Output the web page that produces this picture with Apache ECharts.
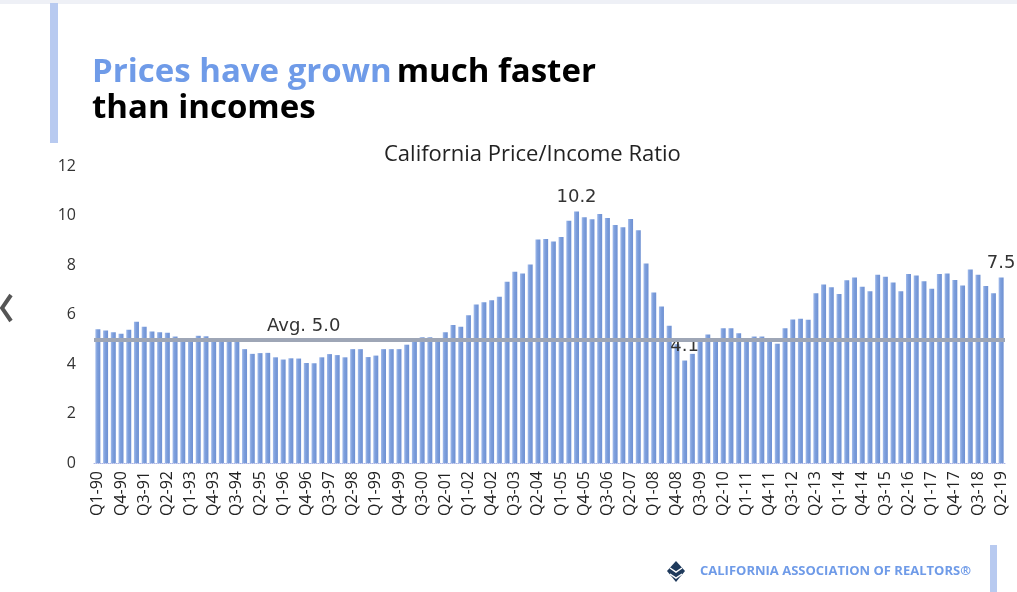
<!DOCTYPE html>
<html>
<head>
<meta charset="utf-8">
<script src="https://cdn.jsdelivr.net/npm/echarts@6/dist/echarts.min.js"></script>
<style>
html,body{margin:0;padding:0;background:#fff;}
#chart{width:1017px;height:592px;}
</style>
</head>
<body>
<div id="chart"></div>
<script>
// ---- Data ----
var startYear = 1990;
var quarterCount = 118; // Q1-90 .. Q2-19
var categories = [];
for (var k = 0; k < quarterCount; k++) {
  var yr = startYear + Math.floor(k / 4);
  var q = (k % 4) + 1;
  categories.push('Q' + q + '-' + String(yr % 100).padStart(2, '0'));
}

var ratioValues = [
  5.40, 5.35, 5.28, 5.22, 5.38, 5.71, 5.51, 5.31, 5.28, 5.26,
  5.11, 5.04, 5.04, 5.14, 5.12, 4.98, 4.95, 4.91, 4.95, 4.60,
  4.41, 4.44, 4.45, 4.27, 4.18, 4.23, 4.22, 4.04, 4.03, 4.27,
  4.40, 4.36, 4.27, 4.60, 4.60, 4.28, 4.34, 4.60, 4.60, 4.60,
  4.78, 4.93, 5.08, 5.08, 5.00, 5.28, 5.58, 5.51, 5.97, 6.40,
  6.49, 6.58, 6.72, 7.32, 7.73, 7.66, 8.02, 9.03, 9.05, 8.95,
  9.13, 9.79, 10.16, 9.93, 9.85, 10.06, 9.90, 9.62, 9.53, 9.86,
  9.40, 8.06, 6.89, 6.32, 5.55, 4.80, 4.14, 4.41, 4.95, 5.19,
  4.95, 5.44, 5.44, 5.24, 5.02, 5.11, 5.11, 4.95, 4.82, 5.44,
  5.80, 5.83, 5.79, 6.86, 7.21, 7.10, 6.83, 7.38, 7.50, 7.12,
  6.94, 7.61, 7.53, 7.29, 6.94, 7.64, 7.58, 7.34, 7.04, 7.64,
  7.66, 7.39, 7.17, 7.82, 7.61, 7.15, 6.86, 7.50
];

var averageValue = 5.0;
var labelledIndexes = [62, 76, 117]; // peak, trough, latest
var yTicks = { min: 0, max: 12, interval: 2 };

// ---- Build ----
var labelFont = 'DejaVu Sans';
var barData = ratioValues.map(function (v, i) {
  if (labelledIndexes.indexOf(i) >= 0) {
    return {
      value: v,
      label: {
        show: true, position: 'top', distance: 5,
        formatter: v.toFixed(1),
        color: '#333', fontSize: 18, fontFamily: labelFont
      }
    };
  }
  return v;
});

var chart = echarts.init(document.getElementById('chart'));
chart.setOption({
  backgroundColor: '#ffffff',
  animation: false,
  title: [
    {
      left: 87, top: 50,
      text: '{a|Prices have grown} {b|much faster}\n{b|than incomes}',
      textStyle: {
        rich: {
          a: { color: '#6f9be8', fontSize: 33, fontWeight: 'bold', fontFamily: 'Open Sans', lineHeight: 36 },
          b: { color: '#000000', fontSize: 33, fontWeight: 'bold', fontFamily: 'Open Sans', lineHeight: 36 }
        }
      }
    },
    {
      left: 379, top: 139,
      text: 'California Price/Income Ratio',
      textStyle: { color: '#222', fontSize: 22, fontWeight: 'normal', fontFamily: 'Open Sans' }
    }
  ],
  grid: { left: 94, right: 12, top: 166, bottom: 129, containLabel: false },
  xAxis: {
    type: 'category',
    data: categories,
    axisTick: { show: false },
    axisLine: { show: true, lineStyle: { color: '#aab6e6', type: 'dotted', width: 1 } },
    axisLabel: {
      interval: 2, rotate: 90, color: '#222', fontSize: 16, fontFamily: 'Open Sans', margin: 8
    }
  },
  yAxis: {
    type: 'value',
    min: yTicks.min, max: yTicks.max, interval: yTicks.interval,
    axisLine: { show: false }, axisTick: { show: false },
    splitLine: { show: false },
    axisLabel: { color: '#333', fontSize: 16, fontFamily: 'Open Sans', margin: 18 }
  },
  series: [{
    type: 'bar',
    data: barData,
    barWidth: 5,
    itemStyle: {
      color: new echarts.graphic.LinearGradient(0, 0, 1, 0, [
        { offset: 0, color: '#a3bcec' },
        { offset: 0.4, color: '#7d9fdc' },
        { offset: 1, color: '#6e90d2' }
      ])
    },
    markLine: {
      symbol: 'none',
      silent: true,
      lineStyle: { color: '#9ea6b6', width: 4, type: 'solid' },
      label: {
        show: true, position: 'insideStartTop', distance: [173, 4],
        formatter: 'Avg. ' + averageValue.toFixed(1),
        color: '#333', fontSize: 18, fontFamily: labelFont
      },
      data: [{ yAxis: averageValue }]
    }
  }],
  graphic: [
    { type: 'rect', left: 0, top: 0, shape: { width: 1017, height: 4 }, style: { fill: '#eef0f6' }, silent: true },
    { type: 'rect', left: 50, top: 3, shape: { width: 8, height: 140 }, style: { fill: '#b8caf0' }, silent: true },
    { type: 'rect', left: 990, top: 545, shape: { width: 7, height: 47 }, style: { fill: '#b8caf0' }, silent: true },
    { type: 'polyline', shape: { points: [[11, 295], [2, 308], [11, 321]] }, style: { stroke: '#555', lineWidth: 4, fill: null }, silent: true },
    { type: 'polygon', shape: { points: [[676, 561], [685, 571], [676, 582], [667, 571]] }, style: { fill: '#1f3a5c' }, silent: true },
    { type: 'polyline', shape: { points: [[670, 568], [676, 572], [682, 568]] }, style: { stroke: '#ffffff', lineWidth: 1.5, fill: null }, silent: true },
    { type: 'polyline', shape: { points: [[670, 574], [676, 578], [682, 574]] }, style: { stroke: '#ffffff', lineWidth: 1.5, fill: null }, silent: true },
    {
      type: 'text', left: 700, top: 565,
      style: { text: 'CALIFORNIA ASSOCIATION OF REALTORS\u00AE', fill: '#6f9be8', font: 'bold 13px "Open Sans"' },
      silent: true
    }
  ]
});
</script>
</body>
</html>
